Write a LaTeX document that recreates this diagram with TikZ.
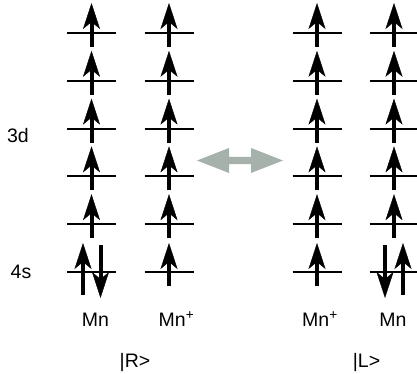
\documentclass[tikz,border=0pt]{standalone}
\usepackage{fontspec}
\setmainfont{Liberation Sans}
\usetikzlibrary{arrows.meta}
\definecolor{swapgray}{RGB}{166,177,171}
\begin{document}
\begin{tikzpicture}[x=1pt,y=-1pt,
  level/.style={line width=1.9pt},
  spin/.style={line width=4pt, -{Stealth[length=26pt,width=17pt,inset=7pt,line width=0.4pt]}},
  lbl/.style={inner sep=0pt, anchor=base, font=\fontsize{19.5}{22}\selectfont}]
\useasboundingbox (0,0) rectangle (417,374);
% energy levels
\foreach \c/\x in {ml/91.5, pl/169, pr/317, mr/394} {
  \foreach \i/\y in {1/33, 2/80.8, 3/128.6, 4/176.4, 5/224.2, 6/272} {
    \coordinate (\c-\i-l) at (\x-24.5,\y);
    \coordinate (\c-\i-r) at (\x+24.5,\y);
    \draw[level] (\c-\i-l) -- (\c-\i-r);
  }
}
% single up spins
\foreach \c/\x in {ml/91.5, pl/169, pr/317, mr/394} {
  \foreach \i/\y in {1/33, 2/80.8, 3/128.6, 4/176.4, 5/224.2} {
    \coordinate (\c-\i-b) at (\x,\y+14);
    \coordinate (\c-\i-t) at (\x,\y-30);
    \draw[spin] (\c-\i-b) -- (\c-\i-t);
  }
}
\foreach \c/\x in {pl/169, pr/317} {
  \coordinate (\c-6-b) at (\x,286);
  \coordinate (\c-6-t) at (\x,243);
  \draw[spin] (\c-6-b) -- (\c-6-t);
}
% 4s pairs
\coordinate (ml-up-b) at (83,295);
\coordinate (ml-up-t) at (83,243);
\coordinate (ml-dn-b) at (100.5,245);
\coordinate (ml-dn-t) at (100.5,298);
\draw[spin] (ml-up-b) -- (ml-up-t);
\draw[spin] (ml-dn-b) -- (ml-dn-t);
\coordinate (mr-up-b) at (403,295);
\coordinate (mr-up-t) at (403,243);
\coordinate (mr-dn-b) at (385,245);
\coordinate (mr-dn-t) at (385,298);
\draw[spin] (mr-up-b) -- (mr-up-t);
\draw[spin] (mr-dn-b) -- (mr-dn-t);
% resonance arrow
\coordinate (swap) at (240,160.5);
\fill[swapgray, shift={(swap)}] (-43,0) -- (-11,-12.5) -- (-11,-3.6) -- (11,-3.6) -- (11,-12.5)
  -- (43,0) -- (11,12.5) -- (11,3.6) -- (-11,3.6) -- (-11,12.5) -- cycle;
% labels
\node[lbl] (d3) at (18,142.5) {3d};
\node[lbl] (s4) at (21,278) {4s};
\node[lbl] (mnl) at (95.5,326.7) {Mn};
\node[lbl] (mnpl) at (176.5,326.7) {Mn\textsuperscript{+}};
\node[lbl] (mnpr) at (320,326.7) {Mn\textsuperscript{+}};
\node[lbl] (mnr) at (393,326.7) {Mn};
\node[lbl] (R) at (135,367.5) {|R>};
\node[lbl] (L) at (366.5,367.5) {|L>};
\end{tikzpicture}
\end{document}
